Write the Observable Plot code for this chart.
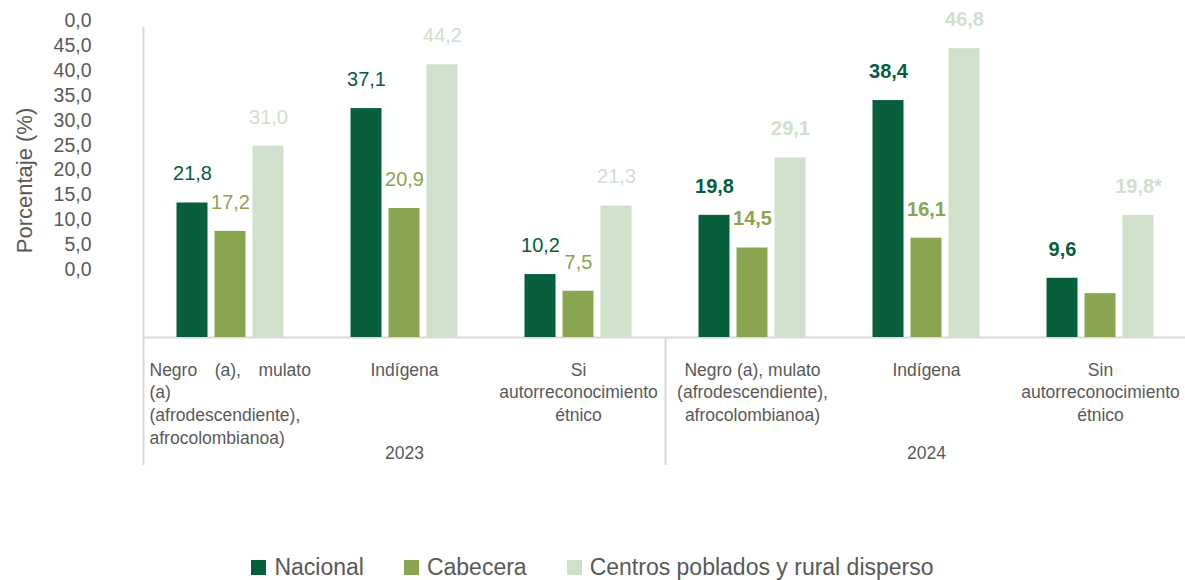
<!DOCTYPE html>
<html>
<head>
<meta charset="utf-8">
<script src="https://cdn.jsdelivr.net/npm/d3@7"></script>
<script src="https://cdn.jsdelivr.net/npm/@observablehq/plot@0.6"></script>
<style>
  body { margin: 0; background: #fff; font-family: "Liberation Sans", Arial, sans-serif; }
  #chart { position: relative; width: 1185px; height: 480px; }
  #chart svg { position: absolute; left: 0; top: 0; overflow: visible; }
  #legend { display: flex; justify-content: center; align-items: center; margin-top: 74px; height: 26px;
            font-size: 23px; color: #595959; }
  .item { display: flex; align-items: center; margin: 0 20px; }
  .sw { width: 15px; height: 15px; margin-right: 8px; }
</style>
</head>
<body>
<div id="chart"></div>
<div id="legend"></div>
<script>
// ---- data ----
const years = ["2023", "2023", "2023", "2024", "2024", "2024"];
const categoryLabels = [
  "Negro\u2003(a),\u2003mulato\n(a)\n(afrodescendiente),\nafrocolombianoa)",
  "Indígena",
  "Si\nautorreconocimiento\nétnico",
  "Negro (a), mulato\n(afrodescendiente),\nafrocolombianoa)",
  "Indígena",
  "Sin\nautorreconocimiento\nétnico"
];
const series = ["Nacional", "Cabecera", "Centros poblados y rural disperso"];
const nacional = [21.8, 37.1, 10.2, 19.8, 38.4, 9.6];
const cabecera = [17.2, 20.9, 7.5, 14.5, 16.1, 7.1];
const centros  = [31.0, 44.2, 21.3, 29.1, 46.8, 19.8];
const nacionalLabels = ["21,8", "37,1", "10,2", "19,8", "38,4", "9,6"];
const cabeceraLabels = ["17,2", "20,9", "7,5", "14,5", "16,1", ""];
const centrosLabels  = ["31,0", "44,2", "21,3", "29,1", "46,8", "19,8*"];
const yTickValues = [0, 5, 10, 15, 20, 25, 30, 35, 40, 45, 50];
const yTickLabels = ["0,0", "5,0", "10,0", "15,0", "20,0", "25,0", "30,0", "35,0", "40,0", "45,0", "0,0"];
const colors = ["#065e3a", "#8aa54f", "#cfe0cb"];

// ---- build table ----
const keys = years.map((y, i) => y + "|" + i);
const valuesBySeries = [nacional, cabecera, centros];
const labelsBySeries = [nacionalLabels, cabeceraLabels, centrosLabels];
const rows = [];
valuesBySeries.forEach((vals, si) => vals.forEach((v, gi) => rows.push({
  group: keys[gi], year: years[gi], si, value: v, label: labelsBySeries[si][gi]
})));
const cats = keys.map((k, i) => ({group: k, label: categoryLabels[i], year: years[i]}));
const yearRows = [{group: keys[1], year: years[1]}, {group: keys[4], year: years[4]}];

// ---- layout ----
const W = 1185, H = 480, left = 143, right = 1187, base = 337;
const band = (right - left) / keys.length;
const barW = 31, step = 38;
const gray = "#595959", lineGray = "#d9d9d9";

const marks = [];
marks.push(Plot.ruleY([0], {stroke: lineGray, strokeWidth: 2}));
marks.push(Plot.ruleX([keys[0]], {dx: -band / 2, stroke: lineGray, strokeWidth: 2, insetTop: 27, insetBottom: -128}));
marks.push(Plot.ruleX([keys[3]], {dx: -band / 2, stroke: lineGray, strokeWidth: 2, insetTop: base, insetBottom: -128}));
series.forEach((s, si) => {
  marks.push(Plot.barY(rows.filter(d => d.si === si), {
    x: "group", y: "value", fill: colors[si], dx: (si - 1) * step,
    insetLeft: (band - barW) / 2, insetRight: (band - barW) / 2
  }));
});
series.forEach((s, si) => {
  ["2023", "2024"].forEach(yr => {
    marks.push(Plot.text(rows.filter(d => d.si === si && d.year === yr && d.label), {
      x: "group", y: "value", text: "label", fill: colors[si], dx: (si - 1) * step, dy: -29,
      fontSize: 20, fontWeight: yr === "2024" ? "bold" : "normal"
    }));
  });
});
marks.push(Plot.text(cats.slice(0, 1), {
  x: "group", text: "label", frameAnchor: "bottom", textAnchor: "start", dx: -band / 2 + 6, dy: 22,
  lineAnchor: "top", lineHeight: 1.3, fontSize: 17.5, fill: gray
}));
marks.push(Plot.text(cats.slice(1), {
  x: "group", text: "label", frameAnchor: "bottom", dy: 22,
  lineAnchor: "top", lineHeight: 1.3, fontSize: 17.5, fill: gray
}));
marks.push(Plot.text(yearRows, {
  x: "group", text: "year", frameAnchor: "bottom", dy: 116, lineAnchor: "middle", fontSize: 17.5, fill: gray
}));

const main = Plot.plot({
  width: W, height: H,
  marginLeft: left, marginRight: 0, marginTop: 0, marginBottom: H - base,
  x: {domain: keys, range: [left, right], padding: 0, axis: null},
  y: {domain: [0, base / 6.17], axis: null},
  style: {fontFamily: "'Liberation Sans', Arial, sans-serif", background: "transparent", overflow: "visible"},
  marks
});

const axis = Plot.plot({
  width: left, height: 360,
  marginLeft: 91, marginRight: 0, marginTop: 0, marginBottom: 0,
  x: {axis: null},
  y: {domain: [0, 50], range: [269, 20.5], axis: null},
  style: {fontFamily: "'Liberation Sans', Arial, sans-serif", background: "transparent", color: gray, overflow: "visible"},
  marks: [
    Plot.axisY(yTickValues, {
      anchor: "left", tickSize: 0, tickPadding: 0, fontSize: 19.5, label: null,
      tickFormat: d => yTickLabels[yTickValues.indexOf(d)]
    }),
    Plot.text(["Porcentaje (%)"], {frameAnchor: "left", textAnchor: "middle", dx: -67, rotate: -90, fontSize: 22, fill: gray})
  ]
});

const chart = document.getElementById("chart");
chart.appendChild(main);
chart.appendChild(axis);

const legend = document.getElementById("legend");
series.forEach((s, i) => {
  const it = document.createElement("div");
  it.className = "item";
  const sw = document.createElement("span");
  sw.className = "sw";
  sw.style.background = colors[i];
  const t = document.createElement("span");
  t.textContent = s;
  it.appendChild(sw); it.appendChild(t);
  legend.appendChild(it);
});
</script>
</body>
</html>
